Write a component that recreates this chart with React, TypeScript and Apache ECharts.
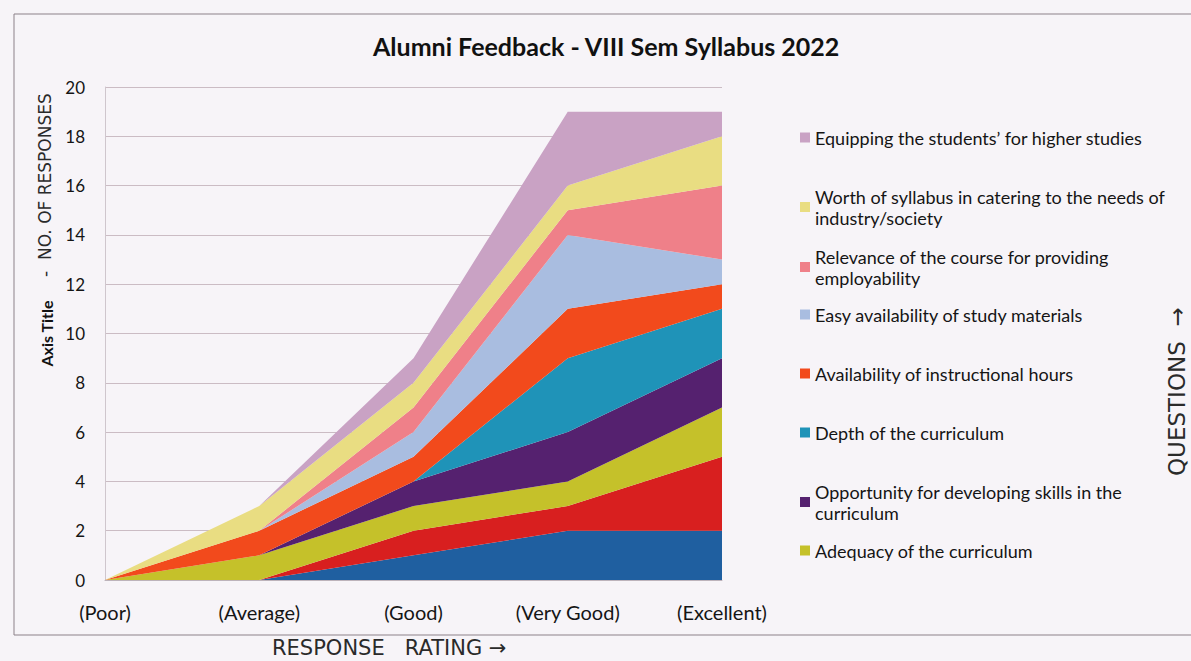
import React, { useEffect, useRef } from "react";
import * as echarts from "echarts";

const categories = ["(Poor)", "(Average)", "(Good)", "(Very Good)", "(Excellent)"];

const seriesNames = [
  "Question A",
  "Question B",
  "Adequacy of the curriculum",
  "Opportunity for developing skills in the curriculum",
  "Depth of the curriculum",
  "Availability of instructional hours",
  "Easy availability of study materials",
  "Relevance of the course for providing employability",
  "Worth of syllabus in catering to the needs of industry/society",
  "Equipping the students\u2019 for higher studies",
];

const questionA = [0, 0, 1, 2, 2];
const questionB = [0, 0, 1, 1, 3];
const adequacy = [0, 1, 1, 1, 2];
const opportunity = [0, 0, 1, 2, 2];
const depth = [0, 0, 0, 3, 2];
const instructionalHours = [0, 1, 1, 2, 1];
const studyMaterials = [0, 0, 1, 3, 1];
const employability = [0, 0, 1, 1, 3];
const worth = [0, 1, 1, 1, 2];
const higherStudies = [0, 0, 1, 3, 1];

const seriesValues = [
  questionA,
  questionB,
  adequacy,
  opportunity,
  depth,
  instructionalHours,
  studyMaterials,
  employability,
  worth,
  higherStudies,
];

const colors = [
  "#1f5fa0",
  "#d81f1f",
  "#c5c12a",
  "#55216f",
  "#1f93b8",
  "#f24a1c",
  "#a9bde0",
  "#ef8089",
  "#e9dd82",
  "#c9a2c4",
];

const yTicks = [0, 2, 4, 6, 8, 10, 12, 14, 16, 18, 20];

// legend entries (top to bottom) with wrapped labels
const legendEntries = [
  { idx: 9, top: 127, label: "Equipping the students\u2019 for higher studies" },
  { idx: 8, top: 186, label: "Worth of syllabus in catering to the needs of\nindustry/society" },
  { idx: 7, top: 246, label: "Relevance of the course for providing\nemployability" },
  { idx: 6, top: 304, label: "Easy availability of study materials" },
  { idx: 5, top: 363, label: "Availability of instructional hours" },
  { idx: 4, top: 422, label: "Depth of the curriculum" },
  { idx: 3, top: 481, label: "Opportunity for developing skills in the\ncurriculum" },
  { idx: 2, top: 540, label: "Adequacy of the curriculum" },
];

const FONT = "Lato, 'Open Sans', sans-serif";
const HAND = "'DejaVu Sans', sans-serif";

export default function App() {
  const ref = useRef<HTMLDivElement>(null);

  useEffect(() => {
    if (!ref.current) return;
    const chart = echarts.init(ref.current, undefined, { renderer: "svg" });

    const labelMap: Record<string, string> = {};
    legendEntries.forEach((e) => {
      labelMap[seriesNames[e.idx]] = e.label;
    });

    const option: any = {
      animation: false,
      backgroundColor: "#f7f4f8",
      title: {
        text: "Alumni Feedback - VIII Sem Syllabus 2022",
        left: 373,
        top: 33,
        padding: 0,
        textStyle: { fontFamily: FONT, fontWeight: "bold", fontSize: 25, color: "#111" },
      },
      legend: legendEntries.map((e) => ({
        data: [seriesNames[e.idx]],
        left: 800,
        top: e.top,
        padding: 0,
        orient: "vertical",
        icon: "rect",
        itemWidth: 10,
        itemHeight: 10,
        formatter: (name: string) => labelMap[name] || name,
        textStyle: { fontFamily: FONT, fontSize: 18, color: "#151515", lineHeight: 21 },
      })),
      grid: { left: 105, right: 469, top: 87, bottom: 81 },
      xAxis: {
        type: "category",
        data: categories,
        boundaryGap: false,
        axisLine: { show: true, lineStyle: { color: "#bdb3bb" } },
        axisTick: { show: false },
        axisLabel: { margin: 22, fontFamily: FONT, fontSize: 20, color: "#151515" },
      },
      yAxis: {
        type: "value",
        min: 0,
        max: 20,
        interval: 2,
        name: "Axis Title",
        nameLocation: "middle",
        nameRotate: 90,
        nameGap: 49,
        nameTextStyle: { fontFamily: FONT, fontWeight: "bold", fontSize: 16, color: "#111" },
        axisLine: { show: true, lineStyle: { color: "#cfc6cd" } },
        axisTick: { show: false },
        axisLabel: {
          margin: 20,
          fontFamily: FONT,
          fontSize: 17,
          color: "#151515",
          formatter: (v: number) => (yTicks.includes(v) ? String(v) : ""),
        },
        splitLine: { lineStyle: { color: "#cbbcc4", width: 1 } },
      },
      series: seriesValues.map((vals, i) => ({
        name: seriesNames[i],
        type: "line",
        stack: "total",
        data: vals,
        symbol: "none",
        showSymbol: false,
        lineStyle: { width: 0, color: colors[i] },
        itemStyle: { color: colors[i] },
        areaStyle: { color: colors[i], opacity: 1 },
      })),
      graphic: [
        {
          type: "rect",
          shape: { x: 14, y: 14, width: 1200, height: 621 },
          style: { fill: "none", stroke: "#8c8189", lineWidth: 1 },
          silent: true,
        },
        {
          type: "text",
          x: 45,
          y: 277,
          rotation: Math.PI / 2,
          style: {
            text: "-  NO. OF RESPONSES",
            fontFamily: HAND,
            fontSize: 17,
            fill: "#2a2a2a",
            textAlign: "left",
            textVerticalAlign: "middle",
          },
        },
        {
          type: "text",
          x: 272,
          y: 648,
          style: {
            text: "RESPONSE   RATING \u2192",
            fontFamily: HAND,
            fontSize: 21,
            fill: "#2a2a2a",
            textAlign: "left",
            textVerticalAlign: "middle",
          },
        },
        {
          type: "text",
          x: 1177,
          y: 476,
          rotation: Math.PI / 2,
          style: {
            text: "QUESTIONS  \u2192",
            fontFamily: HAND,
            fontSize: 23,
            fill: "#2a2a2a",
            textAlign: "left",
            textVerticalAlign: "middle",
          },
        },
      ],
    };

    chart.setOption(option);
    return () => chart.dispose();
  }, []);

  return (
    <div
      ref={ref}
      style={{ position: "fixed", left: 0, top: 0, width: 1191, height: 661 }}
    />
  );
}
